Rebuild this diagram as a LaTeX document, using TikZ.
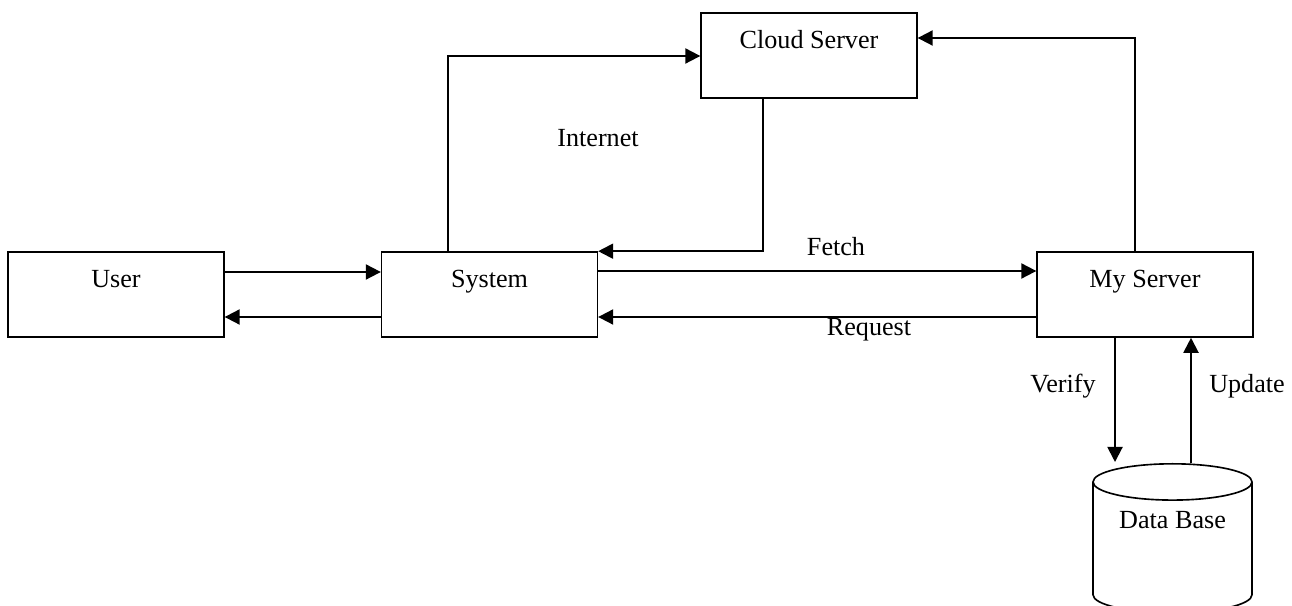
\documentclass[tikz,border=0pt]{standalone}
\usepackage{fontspec}
\setmainfont{Liberation Serif}
\usetikzlibrary{arrows.meta,shapes.geometric}

\tikzset{
  blk/.style={draw, line width=0.75pt, inner sep=0pt, minimum width=99pt,
    text height=16.5pt, text depth=22.5pt, font=\fontsize{12}{14}\selectfont},
  dbase/.style={draw, cylinder, shape border rotate=90, aspect=0.34,
    line width=0.75pt, minimum width=73pt, minimum height=68.4pt,
    inner sep=0pt, text height=9pt, text depth=27pt,
    font=\fontsize{12}{14}\selectfont},
  arr/.style={line width=0.9pt, -{Triangle[length=6.9pt,width=6.9pt]}},
  lbl/.style={font=\fontsize{12}{14}\selectfont, inner sep=0pt}
}

\begin{document}
\begin{tikzpicture}[x=0.459pt, y=-0.459pt]
  % whole canvas, in pixels of the drawing
  \useasboundingbox (0,0) rectangle (1292,606);

  % boxes
  \node[blk] (user)  at (116,294.5)   {User};
  \node[blk] (sys)   at (489.5,294.5) {System};
  \node[blk] (cloud) at (809,55.5)    {Cloud Server};
  \node[blk] (mysrv) at (1145,294.5)  {My Server};
  \node[dbase, anchor=north] (db) at (1172.5,463) {Data Base};

  % user <-> system
  \draw[arr] (user.east |- 0,272) -- (sys.west |- 0,272);
  \draw[arr] (sys.west |- 0,317) -- (user.east |- 0,317);

  % system <-> my server
  \draw[arr] (sys.east |- 0,271) -- (mysrv.west |- 0,271);
  \draw[arr] (mysrv.west |- 0,317) -- (sys.east |- 0,317);
  \node[lbl] (fetch) at (836,247) {Fetch};
  \node[lbl] (req)   at (869,330) {Request};

  % internet loop through the cloud
  \draw[arr] (sys.north -| 448,0) |- (cloud.west |- 0,56);
  \draw[arr] (cloud.south -| 763,0) |- (sys.north east);
  \draw[arr] (mysrv.north -| 1135,0) |- (cloud.east |- 0,38);
  \node[lbl] (inet) at (598,138) {Internet};

  % my server <-> data base
  \coordinate (vtip) at (1115,462);
  \coordinate (ufoot) at (1191,463);
  \draw[arr] (mysrv.south -| vtip) -- (vtip);
  \draw[arr] (ufoot) -- (mysrv.south -| ufoot);
  \node[lbl] (verify) at (1063,386) {Verify};
  \node[lbl] (update) at (1247,386) {Update};
\end{tikzpicture}
\end{document}
